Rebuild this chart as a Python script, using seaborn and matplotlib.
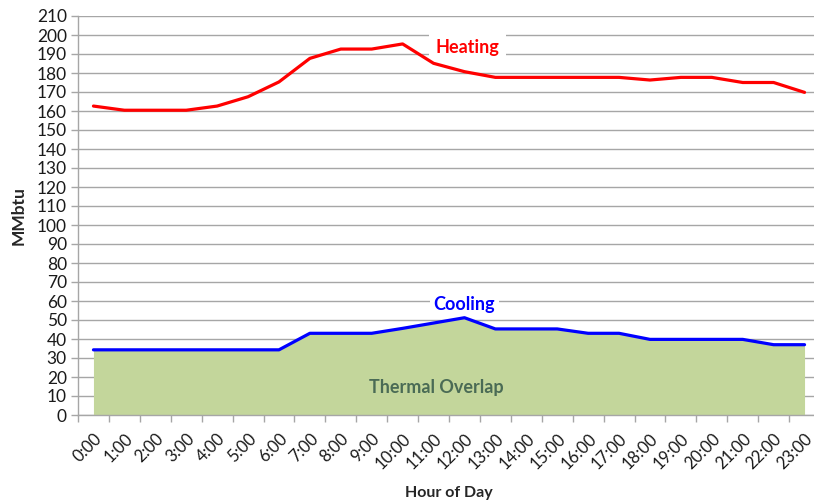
import matplotlib
matplotlib.use("Agg")
import matplotlib.pyplot as plt
from matplotlib.ticker import FixedLocator
import seaborn as sns
import pandas as pd

# Hourly thermal loads (MMbtu)
hours = [f"{h}:00" for h in range(24)]
heating = [162.6, 160.4, 160.4, 160.4, 162.6, 167.5, 175.3, 187.7, 192.6, 192.6,
           195.3, 185.1, 180.7, 177.7, 177.7, 177.7, 177.7, 177.7, 176.3, 177.7,
           177.7, 175.0, 175.0, 169.8]
cooling = [34.3, 34.3, 34.3, 34.3, 34.3, 34.3, 34.3, 43.0, 43.0, 43.0,
           45.6, 48.4, 51.2, 45.3, 45.3, 45.3, 43.0, 43.0, 39.8, 39.8,
           39.8, 39.8, 37.0, 37.0]
y_ticks = list(range(0, 211, 10))

sns.set_style("white")
plt.rcParams["font.family"] = ["Lato", "DejaVu Sans"]

df = pd.DataFrame({"hour": hours, "pos": range(len(hours)),
                   "Heating": heating, "Cooling": cooling})

fig = plt.figure(figsize=(8.14, 5.04), dpi=100)
ax = fig.add_axes([78 / 814, 89 / 504, (820 - 78) / 814, (415 - 16) / 504])

grid_col = "#a6a6a6"

# Overlap area under the cooling curve
ax.fill_between(df["pos"], 0, df["Cooling"], color="#c3d69b", lw=0, zorder=1)
sns.lineplot(data=df, x="pos", y="Heating", color="#ff0000", lw=2.3, ax=ax, zorder=3)
sns.lineplot(data=df, x="pos", y="Cooling", color="#0000ff", lw=2.3, ax=ax, zorder=3)

ax.set_xlim(-0.5, len(hours) - 0.5)
ax.set_ylim(0, 210)
ax.set_yticks(y_ticks)
ax.set_yticklabels([str(v) for v in y_ticks])
ax.yaxis.grid(True, color=grid_col, lw=1)
ax.xaxis.grid(False)
ax.set_axisbelow(True)

ax.set_xticks(df["pos"])
ax.set_xticklabels(hours, rotation=45, ha="right", rotation_mode="anchor")
ax.xaxis.set_minor_locator(FixedLocator([i - 0.5 for i in range(len(hours) + 1)]))
ax.tick_params(axis="x", which="major", length=0, pad=11, labelsize=12, labelcolor="#1a1a1a")
ax.tick_params(axis="x", which="minor", length=5, width=1, color=grid_col, direction="out", bottom=True)
ax.tick_params(axis="y", which="major", length=5, width=1, color=grid_col, direction="out",
               left=True, pad=3, labelsize=12.5, labelcolor="#1a1a1a")

for s in ["top", "right"]:
    ax.spines[s].set_visible(False)
for s in ["left", "bottom"]:
    ax.spines[s].set_color(grid_col)
    ax.spines[s].set_linewidth(1)

ax.set_xlabel("Hour of Day", fontsize=11.5, fontweight="bold")
ax.set_ylabel("MMbtu", fontsize=12.5, fontweight="bold")
ax.xaxis.label.set_va("center")
ax.xaxis.set_label_coords(0.5, -0.196)
ax.yaxis.set_label_coords(-0.069, 0.5)

ax.text(12.1, 193.5, "Heating", color="#ff0000", fontsize=13, fontweight="bold",
        ha="center", va="center", zorder=2.5,
        bbox=dict(facecolor="white", edgecolor="none", pad=5))
ax.text(12.0, 58.4, "Cooling", color="#0000ff", fontsize=13, fontweight="bold",
        ha="center", va="center", zorder=2.5,
        bbox=dict(facecolor="white", edgecolor="none", pad=3))
ax.text(11.1, 14.7, "Thermal Overlap", color="#4a6b55", fontsize=13, fontweight="bold",
        ha="center", va="center", zorder=4)

fig.savefig("out.png", dpi=100)
